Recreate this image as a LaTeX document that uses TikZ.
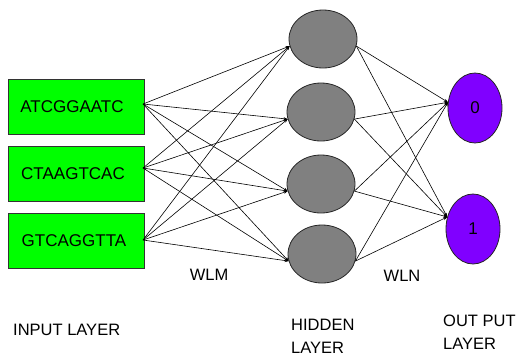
\documentclass[tikz,border=0pt]{standalone}
\usepackage{fontspec}
\setmainfont{Liberation Sans}
\usetikzlibrary{shapes.geometric,arrows.meta}
\definecolor{ingreen}{RGB}{0,255,0}
\definecolor{hidgray}{RGB}{128,128,128}
\definecolor{outviolet}{RGB}{128,0,255}
\tikzset{
  inbox/.style={draw=black!80, line width=0.8pt, fill=ingreen, minimum width=136pt, minimum height=55pt, inner sep=0pt, font=\fontsize{17}{19}\selectfont},
  hidnode/.style={ellipse, draw=black!85, line width=0.8pt, fill=hidgray, minimum width=68pt, minimum height=58pt, inner sep=0pt},
  outnode/.style={ellipse, draw=black!85, line width=0.8pt, fill=outviolet, minimum width=54pt, minimum height=70pt, inner sep=0pt, font=\fontsize{17}{19}\selectfont},
  conn/.style={line width=0.6pt, -{Stealth[length=4pt,width=3pt]}},
  lbl/.style={font=\fontsize{16.5}{23}\selectfont, align=left, inner sep=0pt}
}
\begin{document}
\begin{tikzpicture}[x=1pt,y=-1pt]
\useasboundingbox (0,0) rectangle (518,360);
\node[inbox] (in1) at (76,106.5) {\hspace*{-8pt}ATCGGAATC};
\node[inbox] (in2) at (76,174) {\hspace*{-6pt}CTAAGTCAC};
\node[inbox] (in3) at (76,240.5) {\hspace*{-4pt}GTCAGGTTA};
\node[hidnode] (h1) at (323,39) {};
\node[hidnode] (h2) at (321,112) {};
\node[hidnode] (h3) at (321,184) {};
\node[hidnode] (h4) at (322,254) {};
\node[outnode] (o0) at (475,108) {0};
\node[outnode] (o1) at (473,229) {1};
\coordinate (s1) at (143,104);
\coordinate (s2) at (143,168);
\coordinate (s3) at (143,240);
\foreach \i in {1,2,3}{
  \foreach \j in {1,2,3,4}{
    \draw[conn] (s\i) -- (h\j.192);
  }
}
\foreach \j in {1,2,3,4}{
  \draw[conn] (h\j.-12) -- (o0.168);
  \draw[conn] (h\j.-12) -- (o1.155);
}
\node[lbl] (wlm) at (209,275) {WLM};
\node[lbl] (wln) at (402,276) {WLN};
\node[lbl, anchor=west] (il) at (13,330) {INPUT LAYER};
\node[lbl, anchor=north west] (hl) at (291,319) {HIDDEN\\LAYER};
\node[lbl, anchor=north west] (ol) at (443,315) {OUT PUT\\LAYER};
\end{tikzpicture}
\end{document}
